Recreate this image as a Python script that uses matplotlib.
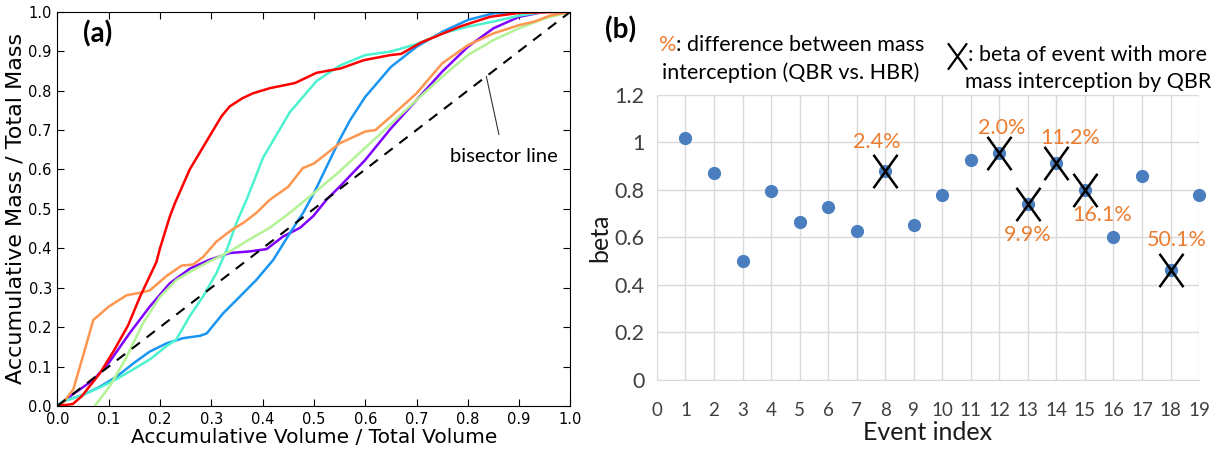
import matplotlib
matplotlib.use('Agg')
import matplotlib.pyplot as plt
import numpy as np
from matplotlib.path import Path
from matplotlib.lines import Line2D

# ---- panel (a) data: accumulative mass vs accumulative volume ----
purple_x = [0, 0.024, 0.07, 0.1, 0.141, 0.18, 0.219, 0.259, 0.297, 0.336, 0.375, 0.408,
            0.44, 0.473, 0.499, 0.525, 0.55, 0.6, 0.65, 0.7, 0.75, 0.8, 0.85, 0.9, 0.95, 1.0]
purple_y = [0, 0.024, 0.066, 0.109, 0.185, 0.252, 0.311, 0.349, 0.371, 0.388, 0.392, 0.398,
            0.43, 0.452, 0.482, 0.524, 0.556, 0.624, 0.704, 0.776, 0.848, 0.911, 0.958, 0.987, 1.0, 1.0]

blue_x = [0, 0.011, 0.05, 0.083, 0.115, 0.148, 0.18, 0.213, 0.245, 0.278, 0.291, 0.323, 0.356,
          0.388, 0.421, 0.453, 0.479, 0.5, 0.55, 0.571, 0.6, 0.65, 0.7, 0.75, 0.8, 0.85, 0.9, 1.0]
blue_y = [0, 0.012, 0.028, 0.049, 0.074, 0.108, 0.138, 0.159, 0.172, 0.178, 0.184, 0.235, 0.278,
          0.32, 0.371, 0.438, 0.49, 0.54, 0.675, 0.726, 0.784, 0.86, 0.911, 0.949, 0.979, 0.996, 1.0, 1.0]

cyan_x = [0, 0.011, 0.044, 0.083, 0.115, 0.148, 0.18, 0.213, 0.232, 0.258, 0.284, 0.31, 0.33,
          0.349, 0.369, 0.401, 0.453, 0.505, 0.55, 0.6, 0.65, 0.7, 0.75, 0.8, 0.85, 0.9, 0.95, 1.0]
cyan_y = [0, 0.012, 0.025, 0.047, 0.068, 0.093, 0.118, 0.152, 0.169, 0.228, 0.278, 0.337, 0.396,
          0.464, 0.524, 0.63, 0.745, 0.824, 0.863, 0.89, 0.899, 0.918, 0.945, 0.962, 0.975, 0.99, 1.0, 1.0]

green_x = [0.073, 0.102, 0.132, 0.167, 0.2, 0.232, 0.265, 0.297, 0.336, 0.375, 0.414, 0.453,
           0.5, 0.55, 0.6, 0.65, 0.7, 0.75, 0.8, 0.85, 0.9, 0.95, 1.0]
green_y = [0, 0.05, 0.117, 0.21, 0.277, 0.32, 0.345, 0.367, 0.392, 0.423, 0.452, 0.49,
           0.54, 0.595, 0.655, 0.715, 0.776, 0.835, 0.89, 0.928, 0.958, 0.983, 1.0]

orange_x = [0, 0.011, 0.031, 0.05, 0.07, 0.1, 0.135, 0.161, 0.18, 0.213, 0.242, 0.265, 0.284,
            0.31, 0.34, 0.362, 0.388, 0.414, 0.45, 0.478, 0.5, 0.55, 0.6, 0.62, 0.65, 0.7,
            0.75, 0.8, 0.85, 0.9, 0.93, 0.96, 1.0]
orange_y = [0, 0.008, 0.042, 0.127, 0.218, 0.252, 0.281, 0.287, 0.293, 0.33, 0.356, 0.359, 0.378,
            0.417, 0.447, 0.464, 0.49, 0.523, 0.556, 0.603, 0.615, 0.666, 0.696, 0.70, 0.734, 0.793,
            0.869, 0.915, 0.945, 0.966, 0.975, 0.99, 1.0]

red_x = [0, 0.03, 0.047, 0.083, 0.11, 0.138, 0.161, 0.193, 0.2, 0.219, 0.229, 0.258, 0.297, 0.32,
         0.336, 0.36, 0.381, 0.414, 0.463, 0.505, 0.552, 0.597, 0.649, 0.67, 0.709, 0.784, 0.843, 0.9, 1.0]
red_y = [0, 0.005, 0.024, 0.083, 0.14, 0.205, 0.277, 0.365, 0.40, 0.48, 0.514, 0.6, 0.685, 0.735,
         0.76, 0.78, 0.793, 0.806, 0.819, 0.845, 0.856, 0.877, 0.890, 0.893, 0.922, 0.962, 0.987, 0.997, 1.0]

# ---- panel (b) data: beta per event ----
events = list(range(1, 20))
beta = [1.02, 0.87, 0.50, 0.795, 0.666, 0.73, 0.628, 0.878, 0.654, 0.779,
        0.928, 0.957, 0.743, 0.912, 0.80, 0.60, 0.858, 0.463, 0.779]
qbr_events = [8, 12, 13, 14, 15, 18]
pct_labels = ['2.4%', '2.0%', '9.9%', '11.2%', '16.1%', '50.1%']
pct_x = [7.7, 12.1, 13.0, 14.5, 15.6, 18.2]
pct_y = [1.0, 1.062, 0.61, 1.02, 0.695, 0.59]

ORANGE = '#ed7d31'
DOT = '#4a7ebf'
SANS = ['Lato', 'DejaVu Sans']

fig = plt.figure(figsize=(12.13, 4.5), dpi=100)

# ---------------- panel (a) ----------------
ax1 = fig.add_axes([0.0473, 0.0978, 0.4230, 0.8762])
colors = plt.cm.rainbow(np.linspace(0, 1, 6))
curves = [(purple_x, purple_y), (blue_x, blue_y), (cyan_x, cyan_y),
          (green_x, green_y), (orange_x, orange_y), (red_x, red_y)]
for (cx, cy), c in zip(curves, colors):
    ax1.plot(cx, cy, color=c, lw=1.8)
ax1.plot([0, 1], [0, 1], 'k--', lw=1.5, dashes=(5, 4))
ax1.set_xlim(0, 1)
ax1.set_ylim(0, 1)
ax1.set_xticks(np.arange(0, 1.01, 0.1))
ax1.set_yticks(np.arange(0, 1.01, 0.1))
ax1.xaxis.set_major_formatter(matplotlib.ticker.FormatStrFormatter('%.1f'))
ax1.yaxis.set_major_formatter(matplotlib.ticker.FormatStrFormatter('%.1f'))
ax1.tick_params(direction='in', top=True, right=True, length=5, labelsize=10.5, pad=4)
ax1.set_xlabel('Accumulative Volume / Total Volume', fontsize=14.5, labelpad=1)
ax1.set_ylabel('Accumulative Mass / Total Mass', fontsize=16, labelpad=2)
ax1.text(0.05, 0.945, '(a)', fontsize=20, fontweight='bold', family=SANS,
         va='center', ha='left')
ax1.annotate('bisector line', xy=(0.836, 0.836), xytext=(0.87, 0.632),
             fontsize=14.5, family=SANS, ha='center', va='center',
             arrowprops=dict(arrowstyle='-', color='#333333', lw=0.8,
                             shrinkA=8, shrinkB=0))

# ---------------- panel (b) ----------------
ax2 = fig.add_axes([0.5416, 0.1556, 0.4469, 0.6333])
ax2.set_xlim(0, 19)
ax2.set_ylim(0, 1.2)
ax2.set_xticks(range(0, 20))
ax2.set_yticks([0, 0.2, 0.4, 0.6, 0.8, 1.0, 1.2])
ax2.set_yticklabels(['0', '0.2', '0.4', '0.6', '0.8', '1', '1.2'])
ax2.grid(True, color='#d9d9d9', lw=1)
ax2.set_axisbelow(True)
for s in ['top', 'right', 'left']:
    ax2.spines[s].set_visible(False)
ax2.spines['bottom'].set_color('#d9d9d9')
ax2.tick_params(length=0, colors='#404040')
ax2.tick_params(axis='x', pad=16, labelsize=13.5)
ax2.tick_params(axis='y', pad=9, labelsize=15.5)
for lab in ax2.get_xticklabels() + ax2.get_yticklabels():
    lab.set_family(SANS)

ax2.plot(events, beta, 'o', color=DOT, ms=8.5, clip_on=False, zorder=3)

xmark = Path([(-0.72, -1), (0.72, 1), (-0.72, 1), (0.72, -1)],
             [Path.MOVETO, Path.LINETO, Path.MOVETO, Path.LINETO])
qbr_beta = [beta[events.index(e)] for e in qbr_events]
ax2.plot(qbr_events, qbr_beta, ls='none', marker=xmark, ms=24, mew=1.8,
         mec='black', mfc='none', zorder=4, clip_on=False)

for lx, ly, t in zip(pct_x, pct_y, pct_labels):
    ax2.text(lx, ly, t, color=ORANGE, fontsize=15.5, family=SANS,
             ha='center', va='center')

ax2.set_xlabel('Event index', fontsize=18, family=SANS, labelpad=1, color='#1a1a1a')
ax2.set_ylabel('beta', fontsize=18, family=SANS, labelpad=2, color='#1a1a1a')

# header texts of panel (b)
fig.text(605 / 1213, 1 - 30 / 450, '(b)', fontsize=20, fontweight='bold',
         family=SANS, va='center', ha='left')
t1 = fig.text(659 / 1213, 1 - 55 / 450, '%', color=ORANGE, fontsize=15.5,
              family=SANS, va='bottom', ha='left')
ax2.annotate(': difference between mass', xy=(1, 0), xycoords=t1,
             fontsize=15.5, family=SANS, va='bottom', ha='left',
             annotation_clip=False)
fig.text(791 / 1213, 1 - 73 / 450, 'interception (QBR vs. HBR)', fontsize=15.5,
         family=SANS, va='center', ha='center')

fig.add_artist(Line2D([957 / 1213], [1 - 56 / 450], ls='none', marker=xmark,
                      ms=19, mew=1.6, mec='black', transform=fig.transFigure))
fig.text(968 / 1213, 1 - 55 / 450, ': beta of event with more', fontsize=15.5,
         family=SANS, va='center', ha='left')
fig.text(1211 / 1213, 1 - 82 / 450, 'mass interception by QBR', fontsize=15.5,
         family=SANS, va='center', ha='right')

fig.savefig('out.png', dpi=100)
